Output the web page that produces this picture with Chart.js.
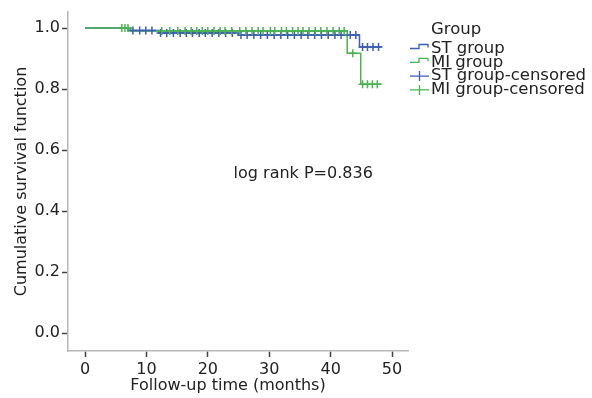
<!DOCTYPE html>
<html>
<head>
<meta charset="utf-8">
<script src="https://cdn.jsdelivr.net/npm/chart.js@4.4.1/dist/chart.umd.min.js"></script>
<style>
  html, body { margin: 0; padding: 0; background: #fff; }
  canvas { display: block; }
</style>
</head>
<body>
<canvas id="kmChart" width="592" height="398"></canvas>
<script>
// Kaplan-Meier step points (time in months, cumulative survival)
const stTimes = [0, 7, 12, 25, 44.7, 48.3];
const stSurvival = [1.0, 0.992, 0.984, 0.977, 0.938, 0.938];
const miTimes = [0, 7.4, 42.7, 44.9, 48.3];
const miSurvival = [1.0, 0.990, 0.917, 0.816, 0.816];

// censored observations
const stCensoredTimes = [7.8, 8.9, 9.9, 10.9, 12.3, 13.3, 14.4, 15.5, 16.5, 17.5, 18.6, 19.6, 20.7, 21.8, 22.9, 24.0,
  25.4, 26.4, 27.5, 28.6, 29.7, 30.8, 31.9, 33.0, 34.1, 35.2, 36.3, 37.4, 38.5, 39.6, 40.7, 41.7, 43.2, 44.1,
  45.2, 46.0, 46.9, 47.8];
const stCensoredSurvival = [0.992, 0.992, 0.992, 0.992, 0.984, 0.984, 0.984, 0.984, 0.984, 0.984, 0.984, 0.984, 0.984, 0.984, 0.984, 0.984,
  0.977, 0.977, 0.977, 0.977, 0.977, 0.977, 0.977, 0.977, 0.977, 0.977, 0.977, 0.977, 0.977, 0.977, 0.977, 0.977, 0.977, 0.977,
  0.938, 0.938, 0.938, 0.938];
const miCensoredTimes = [6.0, 6.5, 7.0, 12.5, 13.8, 15.1, 16.3, 17.3, 18.2, 19.1, 20.0, 21.0, 22.0, 22.8, 23.9, 25.2, 26.2,
  27.2, 28.2, 29.0, 30.2, 30.9, 32.0, 32.8, 33.8, 34.7, 35.5, 36.5, 37.5, 38.4, 39.4, 40.4, 41.4, 42.2,
  43.6, 45.2, 46.0, 46.8, 47.6];
const miCensoredSurvival = [1.0, 1.0, 1.0, 0.990, 0.990, 0.990, 0.990, 0.990, 0.990, 0.990, 0.990, 0.990, 0.990, 0.990, 0.990, 0.990, 0.990,
  0.990, 0.990, 0.990, 0.990, 0.990, 0.990, 0.990, 0.990, 0.990, 0.990, 0.990, 0.990, 0.990, 0.990, 0.990, 0.990, 0.990,
  0.917, 0.816, 0.816, 0.816, 0.816];

const seriesLabels = ["ST group", "MI group", "ST group-censored", "MI group-censored"];
const legendTitle = "Group";
const xTicks = [0, 10, 20, 30, 40, 50];
const yTicks = [0, 0.2, 0.4, 0.6, 0.8, 1.0];
const xTitle = "Follow-up time (months)";
const yTitle = "Cumulative survival function";
const annotationText = "log rank P=0.836";

const blue = "#3d5db3";
const green = "#48b34f";
const textColor = "#222222";
const fontFamily = '"DejaVu Sans", sans-serif';

function toPoints(xs, ys) {
    return xs.map((t, i) => ({ x: t, y: ys[i] }));
}

// custom legend + free text drawn on top of the chart
const overlayText = {
    id: "overlayText",
    afterDraw(chart) {
        const ctx = chart.ctx;
        const xs = chart.scales.x;
        const ys = chart.scales.y;
        ctx.save();
        ctx.fillStyle = textColor;
        ctx.textBaseline = "middle";

        ctx.font = "16px " + fontFamily;
        ctx.textAlign = "left";
        ctx.fillText(annotationText, xs.getPixelForValue(24.2), ys.getPixelForValue(0.523));

        ctx.textAlign = "center";
        ctx.fillText(xTitle, 228, 386);

        // legend
        ctx.textAlign = "left";
        ctx.font = "16.5px " + fontFamily;
        ctx.fillText(legendTitle, 431, 29.5);
        chart.data.datasets.forEach((ds, i) => {
            const rowY = 48.5 + i * 13.8;
            ctx.strokeStyle = ds.borderColor;
            ctx.lineWidth = 1.3;
            ctx.beginPath();
            if (ds.showLine === false) {
                ctx.moveTo(410, rowY);
                ctx.lineTo(429, rowY);
                ctx.moveTo(419.5, rowY - 5);
                ctx.lineTo(419.5, rowY + 5);
            } else {
                ctx.moveTo(410, rowY);
                ctx.lineTo(419, rowY);
                ctx.lineTo(419, rowY - 4);
                ctx.lineTo(428, rowY - 4);
                ctx.lineTo(428, rowY - 1);
            }
            ctx.stroke();
            ctx.fillStyle = textColor;
            ctx.fillText(ds.label, 431, rowY);
        });
        ctx.restore();
    }
};

const ctx = document.getElementById("kmChart").getContext("2d");

new Chart(ctx, {
    type: "line",
    data: {
        datasets: [
            {
                label: seriesLabels[0],
                data: toPoints(stTimes, stSurvival),
                borderColor: blue,
                borderWidth: 1.5,
                stepped: "before",
                pointRadius: 0,
                fill: false,
                order: 3
            },
            {
                label: seriesLabels[1],
                data: toPoints(miTimes, miSurvival),
                borderColor: green,
                borderWidth: 1.5,
                stepped: "before",
                pointRadius: 0,
                fill: false,
                order: 2
            },
            {
                label: seriesLabels[2],
                data: toPoints(stCensoredTimes, stCensoredSurvival),
                borderColor: blue,
                showLine: false,
                pointStyle: "cross",
                pointRadius: 4,
                pointBorderWidth: 1.5,
                order: 1
            },
            {
                label: seriesLabels[3],
                data: toPoints(miCensoredTimes, miCensoredSurvival),
                borderColor: green,
                showLine: false,
                pointStyle: "cross",
                pointRadius: 4,
                pointBorderWidth: 1.5,
                order: 0
            }
        ]
    },
    options: {
        responsive: false,
        animation: false,
        layout: { padding: { top: 12, right: 184, left: 0, bottom: 0 } },
        plugins: {
            legend: { display: false },
            tooltip: { enabled: false }
        },
        scales: {
            x: {
                type: "linear",
                min: -2.77,
                max: 52.6,
                afterFit: (scale) => { scale.height = 47; },
                afterBuildTicks: (scale) => { scale.ticks = xTicks.map(v => ({ value: v })); },
                border: { color: "#b8b8b8", width: 1.5 },
                grid: { drawOnChartArea: false, drawTicks: true, tickLength: 6, tickColor: "#444", tickWidth: 1.5 },
                ticks: { color: textColor, font: { family: fontFamily, size: 16 }, padding: 3, maxRotation: 0 }
            },
            y: {
                type: "linear",
                min: -0.059,
                max: 1.0525,
                afterFit: (scale) => { scale.width = 68; },
                afterBuildTicks: (scale) => { scale.ticks = yTicks.map(v => ({ value: v })); },
                border: { color: "#b8b8b8", width: 1.5 },
                grid: { drawOnChartArea: false, drawTicks: true, tickLength: 6, tickColor: "#444", tickWidth: 1.5 },
                ticks: {
                    color: textColor,
                    font: { family: fontFamily, size: 16 },
                    padding: 2,
                    callback: (v) => Number(v).toFixed(1)
                },
                title: {
                    display: true,
                    text: yTitle,
                    color: textColor,
                    font: { family: fontFamily, size: 16, lineHeight: 1.2 },
                    padding: { top: 12, bottom: 0 }
                }
            }
        }
    },
    plugins: [overlayText]
});
</script>
</body>
</html>
